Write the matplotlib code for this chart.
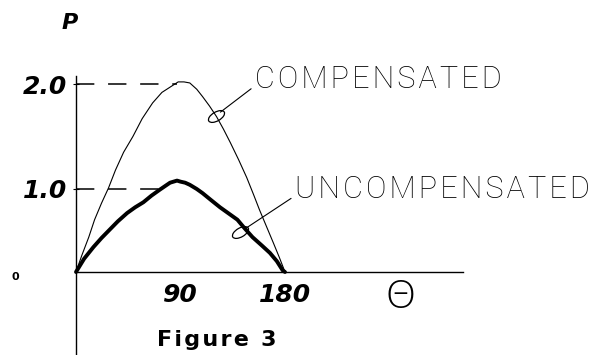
import numpy as np
import matplotlib.pyplot as plt
from matplotlib.path import Path
from matplotlib.transforms import Affine2D

# curves (theta in degrees, P)
theta_comp = [0, 5, 11, 16, 22, 28, 34, 41, 49, 57, 66, 74, 81, 88, 93, 98,
              104, 109, 115, 121, 127, 133, 140, 147, 153, 158, 164, 170, 175, 180]
p_comp = [0, 0.20, 0.42, 0.63, 0.83, 1.01, 1.18, 1.35, 1.50, 1.67, 1.82, 1.92, 1.97, 2.02, 2.02, 2.01,
          1.95, 1.88, 1.79, 1.69, 1.57, 1.44, 1.28, 1.11, 0.93, 0.75, 0.55, 0.35, 0.18, 0]

theta_unc = [0, 7, 15, 22, 29, 36, 44, 51, 58, 65, 72, 77, 81, 87, 90, 94, 98,
             104, 109, 116, 124, 131, 139, 145, 152, 160, 167, 173, 178, 180]
p_unc = [0, 0.16, 0.30, 0.41, 0.51, 0.61, 0.71, 0.78, 0.84, 0.92, 0.99, 1.03, 1.06, 1.08, 1.07, 1.06, 1.04,
         1.00, 0.95, 0.87, 0.78, 0.71, 0.63, 0.53, 0.42, 0.32, 0.23, 0.13, 0.02, 0]

x_ticks = [90, 180]
x_ticklabels = ['90', '180']
y_ticks = [1.0, 2.0]
y_ticklabels = ['1.0', '2.0']

# where the dashed guide lines stop and where the label loops sit
guide_p = [2.0, 1.0]
guide_end = [87, 80]
loop_comp = (120.6, 1.70)
loop_unc = (141.2, 0.48)

# the hand drawn axis is not evenly spaced: 0-1 is shorter than 1-2
pk = [-5, 0, 1, 2, 6]
yk = [-415, 0, 83, 188, 608]
fwd = lambda p: np.interp(p, pk, yk)
inv = lambda y: np.interp(y, yk, pk)

W, H = 595, 355
fig = plt.figure(figsize=(W / 100, H / 100), dpi=100)
ax = fig.add_axes([0, 0, 1, 1])
ax.set_yscale('function', functions=(fwd, inv))
ax.set_xlim(-76 / 1.1611, (W - 76) / 1.1611)
ax.set_ylim(-1.0, 2.8)

for s in ['top', 'right']:
    ax.spines[s].set_visible(False)
ax.spines['left'].set_position(('data', 0))
ax.spines['bottom'].set_position(('data', 0))
ax.spines['left'].set_bounds(-1.0, 2.08)
ax.spines['bottom'].set_bounds(0, 333)
ax.spines['left'].set_linewidth(1.0)
ax.spines['bottom'].set_linewidth(1.0)

num_font = dict(family='DejaVu Sans', weight='bold', style='italic', size=18)
ax.set_xticks(x_ticks)
ax.set_xticklabels(x_ticklabels, fontdict=num_font)
ax.set_yticks(y_ticks)
ax.set_yticklabels(y_ticklabels, fontdict=num_font)
ax.tick_params(axis='x', length=0, pad=8)
ax.tick_params(axis='y', direction='inout', length=5, width=0.8, pad=4)
ax.minorticks_off()

# dashed guides
for p, e in zip(guide_p, guide_end):
    ax.plot([0, e], [p, p], color='black', lw=1.1, dashes=(12, 9))

ax.plot(theta_comp, p_comp, color='black', lw=0.8)
ax.plot(theta_unc, p_unc, color='black', lw=2.8, solid_capstyle='round',
        solid_joinstyle='round')

# little loops where the leaders touch the curves
loop = Path.unit_circle().transformed(Affine2D().scale(1, 0.5).rotate_deg(30))
for lp in [loop_comp, loop_unc]:
    ax.plot(lp[0], lp[1], marker=loop, ms=12, mfc='none', mec='black', mew=0.9)

hs = '\u200a'
lab_font = dict(family=['Roboto', 'DejaVu Sans'], weight='light', size=22)
ax.annotate(hs.join('COMPENSATED'), xy=loop_comp, xycoords='data',
            xytext=(255 / W, 1 - 80 / H), textcoords='figure fraction',
            ha='left', va='center', **lab_font,
            arrowprops=dict(arrowstyle='-', lw=0.8, color='black',
                            relpos=(0, 0.3), shrinkA=1, shrinkB=4))
ax.annotate(hs.join('UNCOMPENSATED'), xy=loop_unc, xycoords='data',
            xytext=(295 / W, 1 - 190 / H), textcoords='figure fraction',
            ha='left', va='center', **lab_font,
            arrowprops=dict(arrowstyle='-', lw=0.8, color='black',
                            relpos=(0, 0.3), shrinkA=1, shrinkB=4))

fig.text(70 / W, 1 - 23 / H, 'P', ha='center', va='center',
         family='DejaVu Sans', weight='bold', style='italic', size=16)
fig.text(15 / W, 1 - 277 / H, '0', ha='center', va='center',
         family='DejaVu Sans', weight='bold', size=8)
fig.text(400 / W, 1 - 298 / H, '\u0398', ha='center', va='center',
         family=['Open Sans', 'DejaVu Sans'], weight='light', size=28)
fig.text(217 / W, 1 - 340 / H, hs.join('Figure 3'), ha='center', va='center',
         family='DejaVu Sans', weight='bold', size=16)

fig.savefig('out.png', dpi=100)
